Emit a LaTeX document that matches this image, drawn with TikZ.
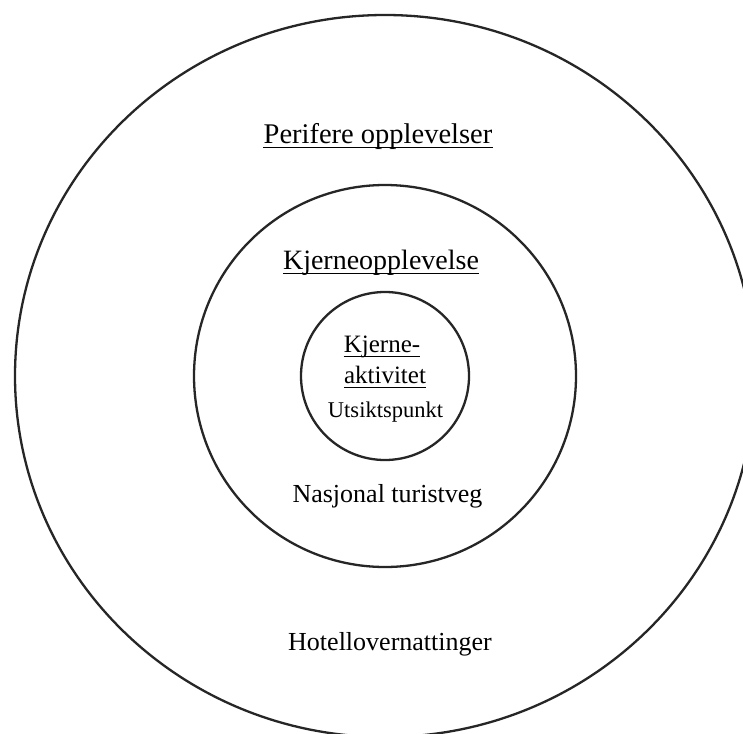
\documentclass[tikz,border=0pt]{standalone}
\usepackage{fontspec}
\setmainfont{Liberation Serif}
\tikzset{
    ring/.style={line width=2.3pt, black!85},
    lbl/.style={inner sep=0pt, anchor=base},
    uline/.style={line width=1.2pt}
}
\begin{document}
\begin{tikzpicture}[x=1pt,y=-1pt]

    \clip (0,0) rectangle (743,733);
    \fill[white] (0,0) rectangle (743,733);

    \coordinate (O) at (385,376);

    \def\rone{84pt}
    \def\rtwo{191pt}

    \draw[ring] (O) circle (\rone);
    \draw[ring] (O) circle (\rtwo);
    \draw[ring] (O) ellipse (370pt and 361pt);

    \node[lbl, font=\fontsize{28.5}{30}\selectfont] (P) at (378,143) {Perifere opplevelser};
    \node[lbl, font=\fontsize{28}{30}\selectfont] (K) at (381,269) {Kjerneopplevelse};
    \node[lbl, font=\fontsize{25}{27}\selectfont] (K1) at (382,352) {Kjerne-};
    \node[lbl, font=\fontsize{25}{27}\selectfont] (K2) at (385,383) {aktivitet};
    \node[lbl, font=\fontsize{22.5}{24}\selectfont] (U) at (385.5,417) {Utsiktspunkt};
    \node[lbl, font=\fontsize{26}{28}\selectfont] (N) at (387.5,502) {Nasjonal turistveg};
    \node[lbl, font=\fontsize{26}{28}\selectfont] (H) at (390,650) {Hotellovernattinger};

    \foreach \n in {P,K,K1,K2}
        \draw[uline] ([yshift=-4.5pt]\n.base west) -- ([yshift=-4.5pt]\n.base east);

\end{tikzpicture}
\end{document}
